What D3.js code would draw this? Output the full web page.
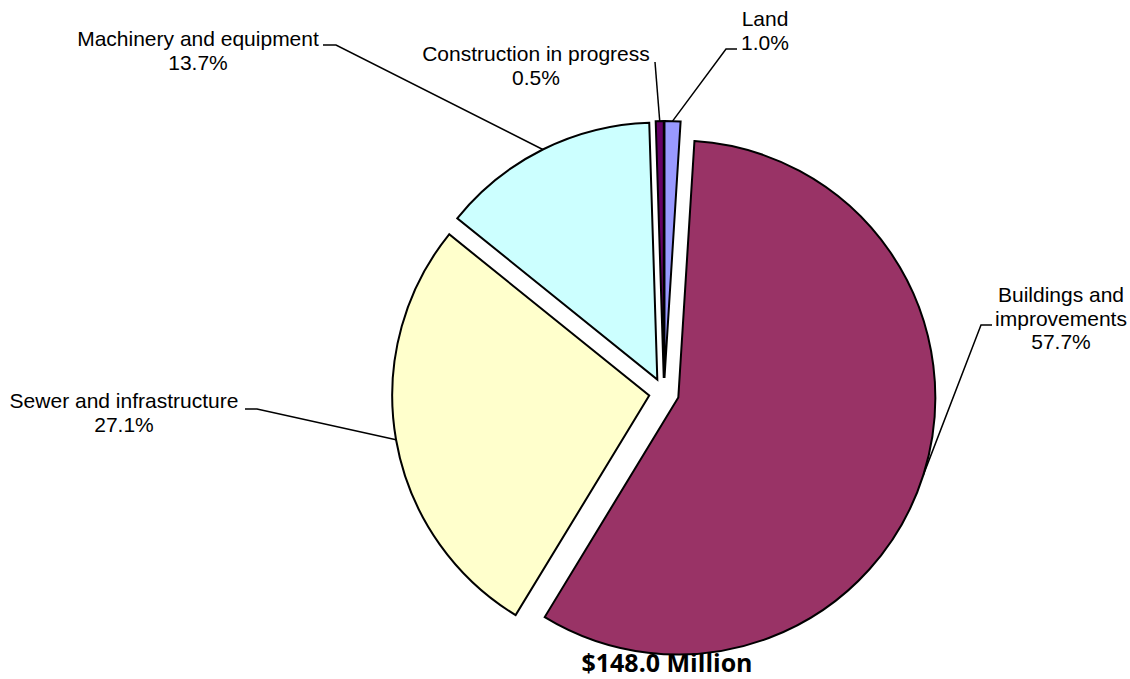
<!DOCTYPE html>
<html>
<head>
<meta charset="utf-8">
<script src="https://cdn.jsdelivr.net/npm/d3@7"></script>
<style>
  html, body { margin: 0; padding: 0; background: #fff; }
  svg { display: block; }
  .label text { font-family: "Liberation Sans", Arial, sans-serif; font-size: 21px; fill: #000; }
  .title { font-family: "Open Sans", Lato, sans-serif; font-weight: bold; font-size: 25px; fill: #000; }
</style>
</head>
<body>
<div id="chart"></div>
<script>
// Data (clockwise from 12 o'clock)
const categories = ['Land', 'Buildings and improvements', 'Sewer and infrastructure', 'Machinery and equipment', 'Construction in progress'];
const shares = [1.0, 57.7, 27.1, 13.7, 0.5];
const labelLines = [
    ['Land'],
    ['Buildings and', 'improvements'],
    ['Sewer and infrastructure'],
    ['Machinery and equipment'],
    ['Construction in progress']
];
const colors = ['#9999ff', '#993366', '#ffffcc', '#ccffff', '#660066'];
const totalLabel = '$148.0 Million';

// Label placement (layout only): text centre, first baseline, leader elbow and end
const labelLayout = [
    { x: 765, y: 26, elbow: [726, 49], end: [737, 49] },
    { x: 1061, y: 302, elbow: [981, 325], end: [992, 325] },
    { x: 124, y: 408, elbow: [257, 409], end: [245, 409] },
    { x: 198, y: 46, elbow: [336, 45], end: [323, 45] },
    { x: 536, y: 61, elbow: [655, 62], end: [655, 62] }
];

let width = 1130;
let height = 679;
let cx = 664, cy = 393;
let radius = 257;
let explode = 15;
let lineHeight = 23.5;

let svg = d3.select('#chart').append('svg')
    .attr('width', width)
    .attr('height', height);

let pie = d3.pie().sort(null).value(d => d).startAngle(0).endAngle(2 * Math.PI);
let arcs = pie(shares);

let arc = d3.arc().innerRadius(0).outerRadius(radius);

let mid = d => (d.startAngle + d.endAngle) / 2;
let offset = d => [explode * Math.sin(mid(d)), -explode * Math.cos(mid(d))];

let root = svg.append('g').attr('transform', `translate(${cx},${cy})`);

// Slices, each pushed out along its mid angle
root.selectAll('path.slice')
    .data(arcs)
  .enter()
  .append('path')
    .attr('class', 'slice')
    .attr('transform', d => `translate(${offset(d)[0]},${offset(d)[1]})`)
    .attr('d', arc)
    .attr('fill', (d, i) => colors[i])
    .attr('stroke', '#000')
    .attr('stroke-width', 2)
    .attr('stroke-linejoin', 'miter');

// Leader lines from the rim of each slice to its label
root.selectAll('path.leader')
    .data(arcs)
  .enter()
  .append('path')
    .attr('class', 'leader')
    .attr('fill', 'none')
    .attr('stroke', '#000')
    .attr('stroke-width', 1.5)
    .attr('d', (d, i) => {
        let o = offset(d);
        let a = mid(d);
        let sx = o[0] + radius * Math.sin(a);
        let sy = o[1] - radius * Math.cos(a);
        let L = labelLayout[i];
        return d3.line()([
            [sx, sy],
            [L.elbow[0] - cx, L.elbow[1] - cy],
            [L.end[0] - cx, L.end[1] - cy]
        ]);
    });

// Labels
let labels = svg.selectAll('g.label')
    .data(arcs)
  .enter()
  .append('g')
    .attr('class', 'label');

labels.append('text')
    .attr('text-anchor', 'middle')
    .each(function(d, i) {
        let L = labelLayout[i];
        let lines = labelLines[i].concat([shares[i].toFixed(1) + '%']);
        d3.select(this).selectAll('tspan')
            .data(lines)
          .enter()
          .append('tspan')
            .attr('x', L.x)
            .attr('y', (t, j) => L.y + j * lineHeight)
            .text(t => t);
    });

// Total
svg.append('text')
    .attr('class', 'title')
    .attr('x', 667)
    .attr('y', 672)
    .attr('text-anchor', 'middle')
    .text(totalLabel);
</script>
</body>
</html>
